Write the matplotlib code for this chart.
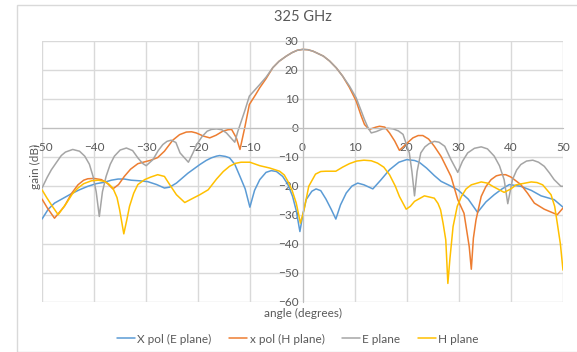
import matplotlib
matplotlib.use("Agg")
import matplotlib.pyplot as plt
from matplotlib.patches import Rectangle

plt.rcParams['font.family'] = ['Lato', 'DejaVu Sans']

# X pol (E plane)
xe_ang = [-50, -48.8, -47.6, -46, -44.4, -42.8, -41.2, -39.6, -38, -36.7, -35.4, -34.2, -32.9, -31.3, -29.7,
          -28, -26.5, -25.5, -24.2, -22, -19.7, -18.5, -17.5, -16.5, -15.9, -14.8, -14, -13, -12, -11, -10.1,
          -9.2, -8.2, -7, -6, -5, -3.8, -2.8, -1.9, -1.2, -0.5, 0.1, 0.7, 1.8, 2.6, 3.5, 4.5, 5.5, 6.4,
          7.3, 8.4, 9.5, 10.6, 11.8, 13.5, 15, 16.7, 18.5, 20, 21.5, 22.4, 23.8, 25.3, 26.6, 28.2, 29.8,
          31.8, 33.6, 35.2, 36.8, 38.3, 39.7, 41.9, 43.9, 45.8, 48.3, 50]
xe_gain = [-31.4, -28, -25.9, -24.3, -22.7, -21.3, -20.1, -19.2, -18.7, -18, -17.6, -17.6, -18, -18.2, -18.5,
           -19.5, -20.7, -20.4, -19, -15.6, -12.6, -11.2, -10.3, -9.7, -9.5, -9.8, -10.3, -12.5, -16.7, -21, -27.3,
           -21.5, -17.8, -15.3, -14.7, -15, -16.7, -19.5, -23.6, -28.5, -35.7, -29.5, -24.7, -21.8, -21, -21.6, -24.5, -28, -31.4,
           -26.5, -22.4, -20, -19, -19.6, -21, -18, -14.4, -11.8, -10.9, -11.2, -11.8, -13.8, -16.4, -18.4, -19.8, -21.3,
           -24.5, -29.1, -25.5, -23, -21, -19.5, -20.1, -21.5, -23.4, -24.7, -27.3]

# x pol (H plane)
xh_ang = [-50, -49, -47.6, -45.7, -44.3, -43.1, -42, -41.2, -40, -38.6, -37.5, -36.4, -35.3, -34.2, -33,
          -31.6, -29.1, -27.8, -26.5, -24.9, -23.6, -22.3, -21.3, -20.4, -19, -17.8, -16.6, -15.3, -14.3, -13.6, -12.7,
          -12, -11.1, -10.2, -9, -8.2, -7, -5.7, -4.5, -3.1, -2, -1, 0, 1, 2, 2.6, 4, 5.2, 6.5,
          7.7, 9, 10.3, 11.2, 11.9, 12.8, 14.1, 14.8, 15.8, 16.7, 17.7, 18.6, 19.9, 21.2, 22.2, 23.1, 24.2, 25.3,
          26.6, 28.5, 29.8, 31, 32, 32.4, 32.8, 33.3, 34.3, 35.2, 36.2, 37.2, 38.1, 39, 40, 41.9, 43.2,
          44.5, 46.4, 48.9, 50]
xh_gain = [-24.5, -27.5, -31.1, -27, -22.5, -19.6, -18, -17.5, -17.4, -17.8, -19, -21, -19.5, -16.7, -14.2,
           -12.3, -11.1, -10.2, -8, -4.2, -2.3, -1.4, -1.3, -1.7, -2.8, -3.4, -2.5, -1.1, -0.6, -0.5, -3.4,
           -7.4, 0, 8.1, 11.5, 13.9, 17, 20.8, 23, 24.8, 26, 26.8, 27.1, 27, 26.5, 26, 24.8, 23.1, 20.7,
           17.9, 14, 9.3, 4.5, 1.2, -0.5, 0.3, 0.6, 0.3, -1.7, -4.5, -7.7, -5.5, -3.4, -2.6, -2.6, -3.8, -6.3,
           -9.8, -16.7, -24.7, -29.4, -40.9, -48.7, -38, -31.7, -23.6, -20.2, -17.8, -16.5, -16.1, -16.1, -16.9, -19.5, -22.5,
           -25.9, -28, -29.9, -27.6]

# E plane
e_ang = [-50, -49, -48.2, -47.2, -46.3, -45.5, -44.1, -42.8, -41.8, -40.9, -40.2, -39.6, -39, -38.4, -37.7,
         -36.9, -36.1, -35, -33.8, -32.6, -31.6, -30.7, -30, -28.7, -27.7, -26.8, -26, -25.2, -24.3, -23.5,
         -21.9, -21, -20.3, -19.3, -18.3, -17.5, -16.5, -15.5, -14.6, -13.7, -13, -12.4, -11.1, -10.2,
         -8.2, -7, -5.7, -4.5, -3.1, -2, -1, 0, 1, 2, 2.6, 4, 5.2, 6.5, 7.7, 9, 10.3, 11.2, 11.9, 12.6,
         13.2, 14.2, 15.4, 16.4, 17.4, 18.4, 19.3, 20.5, 21, 21.5, 22, 22.7, 23.5, 24.3, 25.3, 26.2, 27.3,
         28.5, 29.8, 30.7, 31.7, 33, 34.3, 35.5, 36.8, 37.8, 38.7, 39.4, 40.3, 41.1, 41.9, 43, 44.2, 45.3,
         46.4, 47.4, 48.3, 49.6, 50]
e_gain = [-20.7, -17, -14.4, -11.8, -9.5, -8.3, -7.4, -8, -9.7, -12.5, -16.7, -22, -30.5, -22, -16.7,
          -12.5, -9.7, -7.6, -6.9, -7.8, -10.3, -12.2, -13, -10.9, -7.8, -5.7, -4.6, -4.2, -5, -8.6,
          -11.8, -8.5, -5.7, -3, -1.1, -0.5, -0.3, -0.6, -1.7, -3.5, -4.9, -1.1, 5.8, 11,
          15, 17.5, 20.8, 23, 24.8, 26, 26.8, 27.1, 27, 26.5, 26, 24.8, 23.1, 20.7, 17.9, 14.5, 10.4, 6.2, 2.9, 0,
          -1.7, -1.2, -0.3, -0.1, -0.3, -1, -2.2, -8.6, -15, -23.4, -15, -8.6, -6.5, -5.4, -4.6, -4.9, -6.3,
          -10.9, -15.3, -11.5, -8.6, -7, -6.5, -7.2, -9.7, -13, -17.8, -26.1, -17.8, -14.5, -12.6, -11.4, -11.1, -11.8,
          -13.2, -15.5, -17.8, -20.1, -20.1]

# H plane
h_ang = [-50, -49.1, -48.2, -46.9, -45.3, -44.2, -43.1, -42, -40.5, -39.2, -38, -37.2, -36.4, -35.6, -35.1,
         -34.3, -33.7, -33.2, -32.4, -31.6, -30.3, -29.1, -27.8, -26.5, -25.5, -24.2, -22.6, -21, -19.7,
         -18.1, -16.5, -15.2, -14, -12.9, -11.8, -10.1, -8.2, -6.3, -4.4, -3.5, -2.8, -2, -1.2, -0.4, 0.3,
         1.2, 2.5, 3.5, 4.5, 6.4, 7.7, 9, 10.4, 11.8, 13.2, 14.4, 15.6, 16.7, 17.8, 18.6, 19.9, 20.7,
         21.5, 23.4, 25.3, 26, 26.5, 27, 27.5, 27.9, 28.3, 28.9, 29.7, 30.5, 31.4, 32.4, 34.3, 35.5, 36.5,
         38.7, 40, 41, 43.9, 45, 46.1, 47.7, 48.4, 48.9, 49.5, 50]
h_gain = [-21.3, -24, -26.5, -29.9, -25.9, -22.8, -20.7, -19.2, -18.2, -18, -18.4, -19.3, -20.7, -24, -28.2,
          -36.5, -31.5, -27, -22.5, -19.5, -17.8, -16.9, -16.1, -16.7, -19.5, -23, -25.7, -24.2, -23,
          -21.3, -17.6, -15, -13.2, -12.2, -11.8, -11.8, -13, -13.8, -14.9, -16.2, -18.4, -21.5, -25.9, -32.8, -28.2,
          -20.1, -15.9, -15, -14.9, -14.9, -13.5, -12.3, -11.4, -11.1, -11.3, -12.1, -13.5, -16.1, -20, -23.6, -28, -27,
          -25.3, -23.4, -24.2, -26, -28.2, -33, -38.6, -53.6, -45, -34, -27, -23.6, -21, -19.6, -18.6, -19, -20.1,
          -22.2, -21, -19.6, -18.6, -18.8, -19.6, -23, -27, -32.8, -40, -49]

series = [
    (xe_ang, xe_gain, 'X pol (E plane)', '#5B9BD5'),
    (xh_ang, xh_gain, 'x pol (H plane)', '#ED7D31'),
    (e_ang, e_gain, 'E plane', '#A5A5A5'),
    (h_ang, h_gain, 'H plane', '#FFC000'),
]

fig = plt.figure(figsize=(5.77, 3.52), dpi=100)
ax = fig.add_axes([42 / 577, 1 - 302 / 352, 521 / 577, 261 / 352])

for ang, gain, label, color in series:
    ax.plot(ang, gain, color=color, lw=1.1, label=label,
            solid_joinstyle='round', solid_capstyle='round')

ax.set_xlim(-50, 50)
ax.set_ylim(-60, 30)
ax.set_xticks(range(-50, 51, 10))
ax.set_yticks(range(-60, 31, 10))
ax.grid(True, color='#D9D9D9', lw=1)
ax.set_axisbelow(True)

for s in ['top', 'right']:
    ax.spines[s].set_visible(False)
ax.spines['left'].set_position(('data', 0))
ax.spines['bottom'].set_position(('data', 0))
ax.spines['left'].set_color('#BFBFBF')
ax.spines['bottom'].set_color('#BFBFBF')
ax.tick_params(length=0, labelsize=8.5, labelcolor='#595959')
ax.tick_params(axis='x', pad=10)
ax.tick_params(axis='y', pad=3)

fig.text(303 / 577, 1 - 17 / 352, '325 GHz', ha='center', va='center', fontsize=10.5, color='#595959')
fig.text(303 / 577, 1 - 313 / 352, 'angle (degrees)', ha='center', va='center', fontsize=8.5, color='#595959')
fig.text(35 / 577, 1 - 166 / 352, 'gain (dB)', ha='center', va='center', rotation=90, fontsize=8.5, color='#595959')

fig.legend(loc='center', bbox_to_anchor=(298 / 577, 1 - 339 / 352), ncol=4, frameon=False,
           fontsize=8.5, handlelength=1.5, handletextpad=0.2, columnspacing=1.5,
           labelcolor='#595959')

# chart area border
fig.patches.append(Rectangle((17 / 577, 0.5 / 352), 1.0, 1 - 5 / 352, transform=fig.transFigure,
                             fill=False, edgecolor='#D9D9D9', lw=1))

fig.savefig('out.png', dpi=100)
